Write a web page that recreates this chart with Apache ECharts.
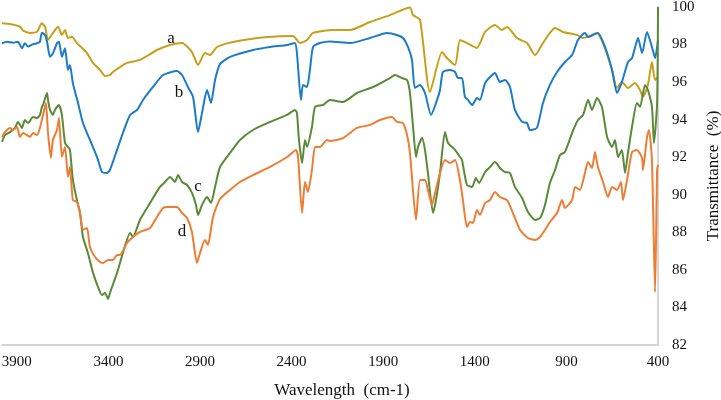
<!DOCTYPE html>
<html>
<head>
<meta charset="utf-8">
<script src="https://cdn.jsdelivr.net/npm/echarts@6/dist/echarts.min.js"></script>
<style>
  html, body { margin: 0; padding: 0; background: #fff; }
  #chart { width: 721px; height: 400px; }
</style>
</head>
<body>
<div id="chart"></div>
<script>
// wavenumber tick labels (axis runs right-to-left)
const waveTicks = [3900, 3400, 2900, 2400, 1900, 1400, 900, 400];

// [wavenumber (cm-1), transmittance (%)]
const seriesA = [
  [3981,99.13],[3937,99.09],[3883,98.95],[3866,98.74],[3828,98.62],[3790,98.68],[3764,99.13],[3746,98.95],
  [3730,98.24],[3703,98.62],[3675,98.95],[3654,98.51],[3637,98.78],[3621,98.35],[3599,98.42],[3572,98.08],
  [3517,97.55],[3484,97.02],[3446,96.65],[3419,96.33],[3392,96.38],[3375,96.54],[3299,97.02],[3228,97.18],
  [3135,97.71],[3064,97.98],[2998,98.08],[2944,97.60],[2911,96.91],[2873,97.55],[2846,97.44],[2807,97.87],
  [2720,98.14],[2534,98.40],[2393,98.46],[2354,98.08],[2316,98.24],[2283,98.62],[2174,98.78],[2081,98.78],
  [1972,99.20],[1863,99.57],[1754,99.98],[1737,99.57],[1699,99.31],[1645,95.47],[1579,97.60],[1552,97.28],
  [1508,96.91],[1481,98.24],[1443,98.08],[1388,97.82],[1344,98.67],[1290,99.04],[1252,98.78],[1224,98.94],
  [1170,98.35],[1115,98.08],[1071,97.44],[1028,98.08],[990,98.62],[962,98.88],[919,98.67],[842,98.51],
  [809,98.35],[760,98.51],[733,98.62],[700,98.08],[651,96.65],[624,95.69],[597,96.01],[564,95.69],
  [526,95.95],[498,95.58],[482,95.21],[455,95.85],[433,97.07],[416,96.11],[400,96.27]
];

const seriesB = [
  [3981,98.07],[3954,98.15],[3921,98.10],[3894,98.15],[3872,97.80],[3856,98.07],[3839,97.89],[3812,98.01],
  [3790,98.07],[3774,98.15],[3763,98.63],[3746,98.51],[3735,98.15],[3719,97.35],[3703,97.53],[3681,98.07],
  [3670,98.15],[3654,97.35],[3637,97.80],[3621,96.65],[3610,96.91],[3594,95.94],[3566,94.89],[3539,93.82],
  [3501,92.92],[3462,92.01],[3435,91.21],[3408,91.16],[3392,91.32],[3353,92.39],[3321,93.29],[3282,94.25],
  [3244,94.52],[3211,95.05],[3157,95.74],[3102,96.38],[3026,96.59],[2998,96.38],[2966,95.74],[2938,95.21],
  [2911,93.34],[2889,94.36],[2862,95.58],[2840,94.89],[2818,96.11],[2791,96.96],[2736,97.34],[2611,97.71],
  [2518,97.87],[2425,97.98],[2382,98.08],[2371,97.55],[2349,95.05],[2338,95.85],[2316,95.74],[2300,96.65],
  [2283,97.87],[2245,98.08],[2191,98.16],[2081,98.08],[1972,98.35],[1879,98.62],[1825,98.51],[1792,98.35],
  [1765,97.87],[1743,97.18],[1727,95.69],[1699,95.85],[1672,95.42],[1639,94.25],[1606,95.05],[1590,95.58],
  [1574,96.54],[1535,96.65],[1508,96.54],[1492,96.22],[1470,96.22],[1454,95.21],[1437,95.05],[1415,94.78],
  [1388,95.15],[1372,95.05],[1344,95.95],[1317,96.27],[1290,96.49],[1263,96.01],[1235,96.11],[1208,95.74],
  [1181,94.52],[1142,93.88],[1115,93.82],[1099,93.45],[1061,93.56],[1028,94.89],[990,95.85],[951,96.54],
  [908,97.07],[869,97.44],[837,98.24],[799,98.62],[782,98.40],[755,98.51],[728,98.62],[689,97.87],
  [651,96.65],[624,95.42],[597,96.01],[564,97.07],[542,97.28],[526,97.82],[509,98.35],[487,97.55],
  [460,98.67],[433,97.87],[416,97.28],[400,98.24]
];

const seriesC = [
  [3981,92.81],[3965,93.18],[3937,93.34],[3910,93.56],[3894,93.88],[3872,93.56],[3856,93.98],[3839,93.82],
  [3812,94.14],[3790,94.09],[3774,94.25],[3763,94.68],[3757,94.78],[3735,95.42],[3730,95.05],[3719,94.52],
  [3703,94.25],[3692,94.52],[3670,94.78],[3654,94.25],[3637,92.76],[3621,92.55],[3610,92.39],[3594,90.79],
  [3572,89.72],[3555,89.03],[3539,87.75],[3512,86.90],[3484,85.84],[3457,85.09],[3435,84.66],[3419,84.77],
  [3402,84.45],[3392,84.77],[3353,85.84],[3321,86.90],[3282,87.97],[3266,87.75],[3228,88.66],[3173,89.56],
  [3119,90.42],[3091,90.68],[3064,90.95],[3037,90.68],[3020,91.05],[2998,90.68],[2971,90.52],[2944,90.10],
  [2922,89.46],[2911,88.92],[2889,89.46],[2862,89.88],[2840,89.56],[2818,90.42],[2791,91.48],[2736,92.23],
  [2682,92.92],[2611,93.45],[2518,93.88],[2425,94.25],[2382,94.52],[2371,94.36],[2360,92.92],[2343,91.69],
  [2327,92.92],[2316,92.55],[2289,93.61],[2272,94.68],[2229,94.78],[2191,95.05],[2120,94.94],[2043,95.42],
  [1956,95.74],[1863,96.22],[1836,96.38],[1798,96.22],[1770,96.11],[1754,95.42],[1737,93.61],[1721,92.01],
  [1710,92.55],[1688,93.02],[1672,92.39],[1656,91.16],[1628,89.03],[1612,89.72],[1590,91.16],[1563,93.34],
  [1546,92.76],[1508,92.39],[1481,92.01],[1470,91.85],[1443,90.52],[1415,90.42],[1394,90.89],[1377,90.63],
  [1344,91.21],[1317,91.48],[1290,91.75],[1263,91.43],[1235,91.21],[1208,91.16],[1181,90.42],[1142,89.83],
  [1110,89.08],[1071,88.66],[1044,88.76],[1017,89.46],[990,90.63],[962,91.32],[935,92.12],[908,92.28],
  [869,93.29],[837,93.98],[809,94.25],[782,95.05],[760,94.52],[733,95.15],[706,94.68],[678,93.08],
  [651,92.55],[635,92.92],[618,92.01],[597,92.39],[580,91.16],[564,92.23],[542,93.61],[515,94.89],
  [498,94.68],[471,95.85],[455,95.58],[433,94.68],[422,92.76],[405,94.89],[400,100.0]
];

const seriesD = [
  [3981,93.08],[3965,93.34],[3937,93.56],[3921,93.45],[3899,93.61],[3883,93.08],[3866,93.29],[3845,93.18],
  [3828,93.08],[3812,93.29],[3790,93.18],[3774,93.56],[3757,94.25],[3741,94.89],[3730,93.29],[3714,91.96],
  [3703,92.92],[3681,93.45],[3670,94.09],[3654,92.01],[3637,92.55],[3621,90.95],[3610,91.48],[3594,89.72],
  [3572,89.62],[3555,89.03],[3539,88.13],[3517,88.23],[3501,87.22],[3473,86.69],[3446,86.42],[3430,86.37],
  [3402,86.53],[3375,86.53],[3353,86.79],[3337,86.79],[3299,87.43],[3266,87.75],[3228,88.02],[3173,88.23],
  [3135,88.82],[3102,89.30],[3075,89.35],[3048,89.35],[3026,89.35],[2998,89.03],[2971,88.76],[2944,88.02],
  [2917,86.37],[2900,86.90],[2873,87.59],[2857,87.33],[2829,88.82],[2791,89.78],[2736,90.26],[2682,90.68],
  [2611,91.05],[2518,91.48],[2425,92.01],[2376,92.39],[2365,92.01],[2343,89.03],[2327,90.68],[2311,90.15],
  [2289,91.32],[2272,92.55],[2245,92.55],[2207,92.92],[2191,92.86],[2120,93.02],[2043,93.56],[1972,93.72],
  [1918,93.98],[1852,94.14],[1825,93.88],[1792,93.82],[1770,93.18],[1754,92.23],[1721,88.66],[1699,90.79],
  [1672,90.79],[1656,90.26],[1634,89.46],[1617,90.10],[1590,91.16],[1563,91.85],[1535,91.69],[1508,91.85],
  [1481,90.79],[1465,89.72],[1443,88.29],[1426,88.55],[1410,88.50],[1388,89.19],[1372,88.92],[1344,89.56],
  [1317,89.72],[1290,90.15],[1263,89.88],[1224,89.72],[1192,89.03],[1153,88.13],[1110,87.70],[1071,87.59],
  [1044,87.75],[1006,88.29],[990,88.55],[951,89.03],[924,89.72],[908,89.30],[869,89.72],[853,90.42],
  [826,90.26],[799,91.16],[782,91.75],[760,91.43],[744,92.28],[728,91.48],[700,90.68],[673,89.88],
  [651,90.42],[624,90.26],[602,90.68],[591,89.72],[569,90.79],[542,92.28],[515,92.39],[487,91.96],
  [482,91.32],[460,93.08],[449,93.45],[433,91.85],[416,84.82],[405,91.32],[400,91.59]
];

// curve letters: [letter, wavenumber, transmittance]
const curveLabels = [
  ['a', 3059, 98.30],
  ['b', 3015, 95.42],
  ['c', 2911, 90.42],
  ['d', 2998, 88.02]
];

const colors = ['#C7A01A', '#1B7BC9', '#5A8A38', '#EE7D34'];
const font = 'Liberation Serif';

function makeSeries(name, data, idx) {
  const lab = curveLabels[idx];
  return {
    name: name,
    type: 'line',
    data: data,
    showSymbol: false,
    smooth: 0.2,
    lineStyle: { width: 2, color: colors[idx] },
    itemStyle: { color: colors[idx] },
    z: 2 + idx,
    markPoint: {
      symbol: 'circle',
      symbolSize: 0,
      silent: true,
      data: [{ coord: [lab[1], lab[2]] }],
      label: {
        show: true,
        formatter: lab[0],
        color: '#111',
        fontFamily: font,
        fontSize: 17
      }
    }
  };
}

const chart = echarts.init(document.getElementById('chart'), null, { renderer: 'canvas' });
chart.setOption({
  backgroundColor: '#fff',
  animation: false,
  grid: { left: 2, right: 63, top: 7, bottom: 55, containLabel: false, outerBoundsMode: 'none' },
  xAxis: {
    type: 'value',
    inverse: true,
    min: 400,
    max: 3981,
    name: 'Wavelength  (cm-1)',
    nameLocation: 'middle',
    nameGap: 37,
    nameTextStyle: { fontFamily: font, fontSize: 17, color: '#111', padding: [0, 0, 0, 24] },
    axisLine: { show: true, lineStyle: { color: '#c8c8c8', width: 1.5 } },
    axisTick: { show: false },
    splitLine: { show: false },
    axisLabel: {
      customValues: waveTicks,
      formatter: function (v) { return String(v); },
      margin: 10,
      fontFamily: font,
      fontSize: 15,
      color: '#111'
    }
  },
  yAxis: {
    type: 'value',
    position: 'right',
    min: 82,
    max: 100,
    interval: 2,
    name: 'Transmittance  (%)',
    nameLocation: 'middle',
    nameRotate: 90,
    nameGap: 40,
    nameTextStyle: { fontFamily: font, fontSize: 17, color: '#111' },
    axisLine: { show: true, lineStyle: { color: '#c8c8c8', width: 1.5 } },
    axisTick: { show: false },
    splitLine: { show: false },
    axisLabel: { margin: 14, fontFamily: font, fontSize: 15, color: '#111' }
  },
  series: [
    makeSeries('a', seriesA, 0),
    makeSeries('b', seriesB, 1),
    makeSeries('c', seriesC, 2),
    makeSeries('d', seriesD, 3)
  ]
});
</script>
</body>
</html>
